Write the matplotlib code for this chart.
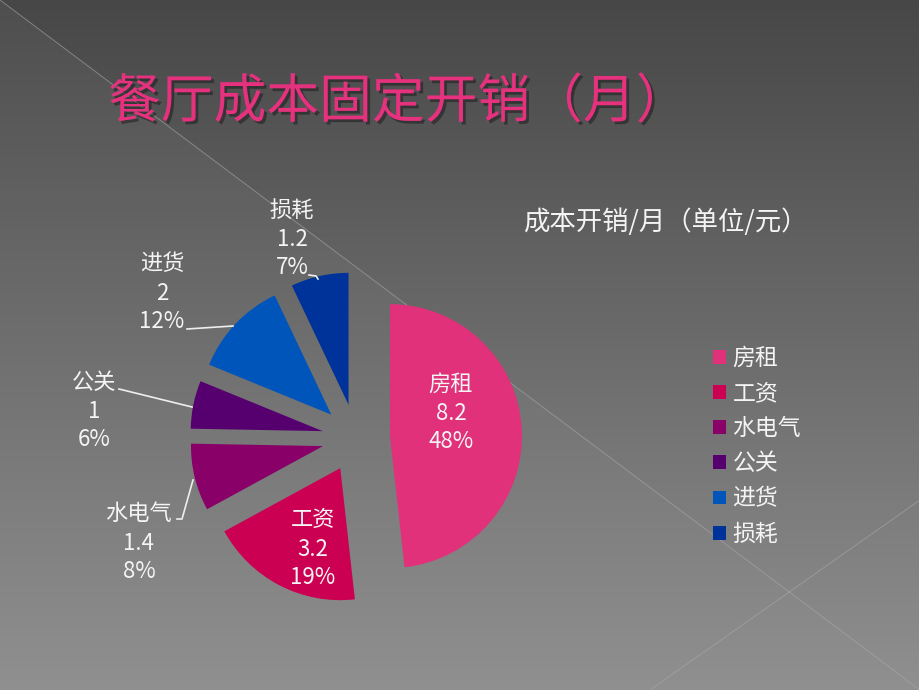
import numpy as np
import matplotlib
matplotlib.use("Agg")
import matplotlib.pyplot as plt
import matplotlib.patheffects as pe

plt.rcParams['font.family'] = ['Noto Sans CJK SC', 'DejaVu Sans']

# ---- data ----
categories = ['房租', '工资', '水电气', '公关', '进货', '损耗']
values = [8.2, 3.2, 1.4, 1, 2, 1.2]
percents = ['48%', '19%', '8%', '6%', '12%', '7%']
colors = ['#E1317A', '#CC0052', '#880068', '#560070', '#0055BB', '#003399']
slide_title = '餐厅成本固定开销（月）'
chart_title = '成本开销/月（单位/元）'

W, H = 920, 690
fig = plt.figure(figsize=(W / 100, H / 100), dpi=100)
ax = fig.add_axes([0, 0, 1, 1])

# background gradient
yy, xx = np.mgrid[0:H, 0:W]
top, bot = 0x47, 0x90
g = top + (bot - top) * (yy / H)
g = g + 7 * ((yy / H) > (xx / W)) * (1 - yy / H)  # lighter lower-left triangle
bg = np.dstack([g, g, g]) / 255.0
ax.imshow(bg, extent=(0, W, 0, H), origin='upper', zorder=0, aspect='auto')

# decorative lines
ax.plot([0, W], [H, 0], color='#a8a8a8', lw=0.7, alpha=0.6, zorder=1)
ax.plot([650, 920], [0, 190], color='#a8a8a8', lw=0.7, alpha=0.6, zorder=1)

# pie (y-up pixel coordinates)
cx, cy = 356, H - 438
wedges, _ = ax.pie(values, colors=colors, startangle=90, counterclock=False,
                   radius=132, center=(cx, cy), explode=[34] * len(values),
                   wedgeprops=dict(linewidth=0, zorder=2))

# labels (image coords: x, y of first line)
lab_pos = {
    '房租': (451, 384),
    '工资': (313, 519),
    '水电气': (139, 513),
    '公关': (94, 382),
    '进货': (162, 263),
    '损耗': (292, 210),
}
lab_gap = [0, 30, 58]
for cat, v, p in zip(categories, values, percents):
    x, y = lab_pos[cat]
    for t, dy in zip([cat, f'{v:g}', p], lab_gap):
        ax.text(x, H - (y + dy), t, ha='center', va='center', fontsize=16,
                color='#f4f4f4', zorder=4)

# leader lines (image coords)
leaders = [
    [(309, 275), (316, 276), (318, 279)],
    [(187, 329), (233, 326)],
    [(119, 389), (192, 407)],
    [(177, 519), (182, 519), (193, 480)],
]
for seg in leaders:
    xs = [p[0] for p in seg]
    ys = [H - p[1] for p in seg]
    ax.plot(xs, ys, color='#eeeeee', lw=1.2, zorder=3)

# titles
ax.text(108, H - 102, slide_title, fontsize=38, color='#E6317E',
        ha='left', va='center', zorder=5,
        path_effects=[pe.SimplePatchShadow(offset=(2, -2), shadow_rgbFace='#111111', alpha=0.45),
                      pe.Normal()])
ax.text(665, H - 222, chart_title, fontsize=19, color='#f4f4f4', ha='center', va='center', zorder=5)

leg = ax.legend(wedges, categories, loc='upper left', bbox_to_anchor=(713 / W, 1 - 347 / H),
                bbox_transform=fig.transFigure, frameon=False, fontsize=16.5,
                handlelength=0.55, handleheight=0.55, handletextpad=0.3,
                labelspacing=0.53, borderpad=0, borderaxespad=0)
for t in leg.get_texts():
    t.set_color('#f4f4f4')

ax.set_xlim(0, W)
ax.set_ylim(0, H)
ax.set_aspect('auto')
ax.axis('off')

fig.savefig('out.png', dpi=100)
